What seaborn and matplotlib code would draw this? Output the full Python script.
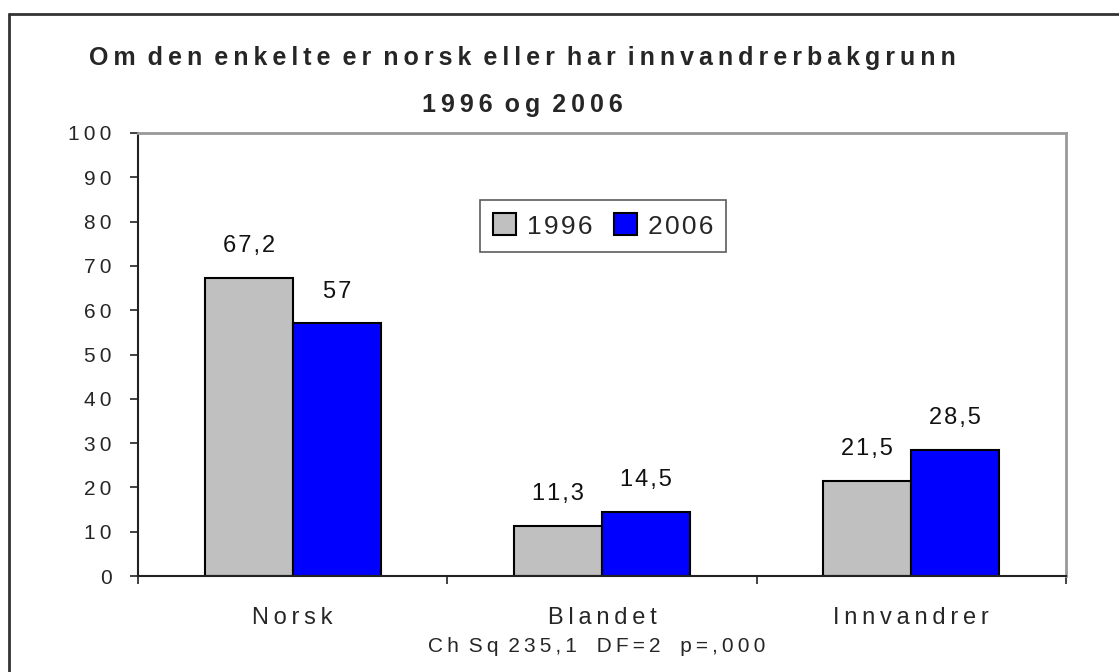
import matplotlib
matplotlib.use('Agg')
import matplotlib.pyplot as plt
from matplotlib.lines import Line2D
import seaborn as sns
import pandas as pd

# Dades del gràfic
kategorier = ['Norsk', 'Blandet', 'Innvandrer']
ar = ['1996', '2006']
verdier_1996 = [67.2, 11.3, 21.5]
verdier_2006 = [57.0, 14.5, 28.5]
etiketter_1996 = ['67,2', '11,3', '21,5']
etiketter_2006 = ['57', '14,5', '28,5']
y_ticks = [0, 10, 20, 30, 40, 50, 60, 70, 80, 90, 100]

tittel_1 = 'Om den enkelte er norsk eller har innvandrerbakgrunn'
tittel_2 = '1996 og 2006'
fotnote = 'Ch Sq 235,1  DF=2  p=,000'


def spaced(tekst, sep='\u2009'):
    '''Sprer bokstavene som i originalen'''
    return (sep + ' ').join(sep.join(ord_) for ord_ in tekst.split(' '))


df = pd.DataFrame({
    'Kategori': kategorier * 2,
    'År': [ar[0]] * 3 + [ar[1]] * 3,
    'Prosent': verdier_1996 + verdier_2006,
})

sns.set_theme(style='white')
plt.rcParams['font.family'] = ['Liberation Sans', 'DejaVu Sans']

fig = plt.figure(figsize=(11.19, 6.72), dpi=100)
ax = fig.add_axes([138 / 1119, 96 / 672, 928 / 1119, 443 / 672])

sns.barplot(data=df, x='Kategori', y='Prosent', hue='År',
            palette=['#c0c0c0', '#0000ff'], width=0.57, gap=0,
            edgecolor='black', linewidth=1.5, saturation=1, ax=ax)

# Verdietiketter over søylene
for container, etiketter in zip(ax.containers, [etiketter_1996, etiketter_2006]):
    for bar, tekst in zip(container, etiketter):
        ax.annotate(spaced(tekst, '\u200a'),
                    (bar.get_x() + bar.get_width() / 2, bar.get_height()),
                    xytext=(0, 15), textcoords='offset points',
                    ha='center', va='bottom', fontsize=17, color='#111111')

ax.set_ylim(0, 100)
ax.set_xlim(-0.5, 2.5)
ax.set_yticks(y_ticks)
ax.set_yticklabels([spaced(str(t)) for t in y_ticks], fontsize=15)
ax.set_xticks([-0.5, 0.5, 1.5, 2.5])
ax.set_xticklabels([])
ax.set_xticks([0, 1, 2], minor=True)
ax.set_xticklabels([spaced(k) for k in kategorier], minor=True, fontsize=17)
ax.tick_params(axis='x', which='major', direction='out', length=6,
               width=1.2, color='#222222', bottom=True)
ax.tick_params(axis='x', which='minor', length=0, pad=22, bottom=True)
ax.tick_params(axis='y', direction='out', length=6, width=1.2,
               color='#222222', left=True, pad=13)
ax.set_xlabel('')
ax.set_ylabel('')

for side in ['left', 'bottom']:
    ax.spines[side].set_color('#222222')
    ax.spines[side].set_linewidth(1.5)
for side in ['top', 'right']:
    ax.spines[side].set_color('#999999')
    ax.spines[side].set_linewidth(2)

handles, labels = ax.get_legend_handles_labels()
ax.legend(handles, [spaced(l, '\u200a') for l in labels], loc='center',
          bbox_to_anchor=(603 / 1119, 1 - 226 / 672),
          bbox_transform=fig.transFigure, ncol=2, fontsize=19,
          frameon=True, fancybox=False, edgecolor='#333333',
          handlelength=0.9, handleheight=0.9, handletextpad=0.4,
          columnspacing=0.8, borderpad=0.5, borderaxespad=0)
ax.get_legend().get_frame().set_linewidth(1.2)

# Tittel og fotnote
fig.text(522 / 1119, 1 - 58 / 672, spaced(tittel_1), ha='center', va='center',
         fontsize=18, fontweight='bold')
fig.text(522 / 1119, 1 - 105 / 672, spaced(tittel_2), ha='center', va='center',
         fontsize=18, fontweight='bold')
fig.text(597 / 1119, 1 - 647 / 672, spaced(fotnote), ha='center', va='center',
         fontsize=15)

# Ytre ramme
fig.add_artist(Line2D([9 / 1119, 9 / 1119], [0, 1 - 14 / 672],
                      transform=fig.transFigure, color='#333333', lw=2))
fig.add_artist(Line2D([9 / 1119, 1], [1 - 14 / 672, 1 - 14 / 672],
                      transform=fig.transFigure, color='#333333', lw=2))

fig.savefig('out.png', dpi=100)
